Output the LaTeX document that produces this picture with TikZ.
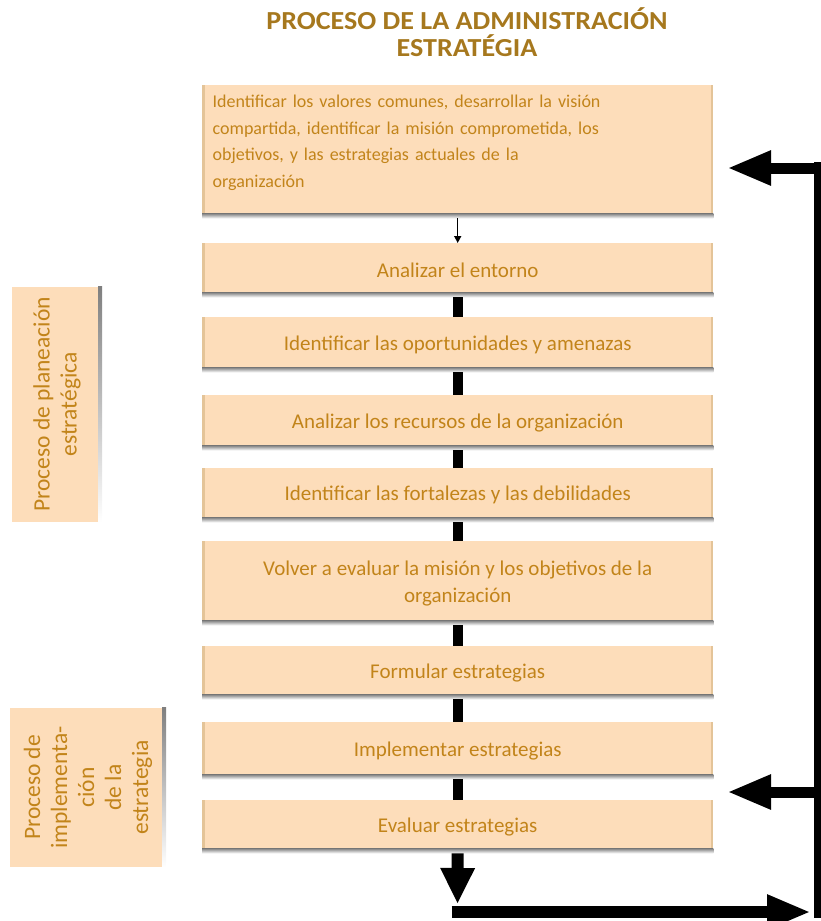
\documentclass[tikz,border=0pt]{standalone}
\usepackage{fontspec}
\setmainfont{Carlito}
\newfontfamily\ttlfont[FakeStretch=1.08]{Carlito}
\usetikzlibrary{arrows.meta}
\definecolor{peach}{RGB}{253,221,186}
\definecolor{shade}{RGB}{150,118,82}
\definecolor{edgec}{RGB}{228,196,152}
\definecolor{txt}{RGB}{194,132,26}
\definecolor{ttl}{RGB}{166,120,30}
\begin{document}
\begin{tikzpicture}[x=1pt,y=-1pt,
  stepbox/.style={fill=peach, inner sep=0pt, minimum width=511pt, anchor=north west,
    text=txt, font=\fontsize{21}{27}\selectfont, align=center},
  sidebox/.style={fill=peach, inner sep=0pt, rotate=90, text=txt, align=center,
    font=\fontsize{23.5}{27}\selectfont},
  link/.style={line width=10pt, black},
  thinlink/.style={line width=1.5pt, black, -{Triangle[length=7pt,width=7pt]}},
  fbline/.style={line width=7pt, black},
  fbarrow/.style={line width=11pt, black, -{Triangle[length=44pt,width=32pt]}},
  downarrow/.style={line width=12pt, black, -{Triangle[length=36pt,width=32pt]}},
  ttlstyle/.style={text=ttl, font=\ttlfont\bfseries\fontsize{26}{26.5}\selectfont, align=center}
]
\useasboundingbox (0,0) rectangle (821,921);

\node[ttlstyle] (title) at (467,32) {PROCESO DE LA ADMINISTRACIÓN\\ESTRATÉGIA};

\node[stepbox, minimum height=133pt, align=left, text width=490pt,
  font=\fontsize{18}{26.5}\selectfont] (b1) at (202,85)
  {Identificar los valores comunes, desarrollar la visión\\
   compartida, identificar la misión comprometida, los\\
   objetivos, y las estrategias actuales de la\\
   organización\par\vspace{18pt}};
\node[stepbox, minimum height=54pt] (b2) at (202,243) {Analizar el entorno};
\node[stepbox, minimum height=55pt] (b3) at (202,317) {Identificar las oportunidades y amenazas};
\node[stepbox, minimum height=55pt] (b4) at (202,395) {Analizar los recursos de la organización};
\node[stepbox, minimum height=54pt] (b5) at (202,468) {Identificar las fortalezas y las debilidades};
\node[stepbox, minimum height=84pt] (b6) at (202,541) {Volver a evaluar la misión y los objetivos de la\\organización};
\node[stepbox, minimum height=53pt] (b7) at (202,646) {Formular estrategias};
\node[stepbox, minimum height=57pt] (b8) at (202,722) {Implementar estrategias};
\node[stepbox, minimum height=53pt] (b9) at (202,800) {Evaluar estrategias};

\foreach \n in {b1,b2,b3,b4,b5,b6,b7,b8,b9}{
  \fill[shade] (\n.south west) rectangle ([yshift=5pt]\n.south east);
  \fill[edgec] ([yshift=5pt]\n.south west) rectangle ([xshift=2.5pt]\n.north west);
  \fill[edgec] ([xshift=-2.5pt,yshift=5pt]\n.south east) rectangle (\n.north east);
}

\node[sidebox, minimum width=235pt, minimum height=90pt] (p1) at (57,404.5)
  {Proceso de planeación\\estratégica};
\node[sidebox, minimum width=159pt, minimum height=156pt] (p2) at (88,787.5)
  {Proceso de\\implementa-\\ción\\de la\\estrategia};
\foreach \n in {p1,p2}{
  \fill[shade] (\n.south west) rectangle ([xshift=-4pt]\n.south east);
}

\draw[thinlink] (b1.south) -- (b2.north);
\draw[link] (b2.south) -- (b3.north);
\draw[link] (b3.south) -- (b4.north);
\draw[link] (b4.south) -- (b5.north);
\draw[link] (b5.south) -- (b6.north);
\draw[link] (b6.south) -- (b7.north);
\draw[link] (b7.south) -- (b8.north);
\draw[link] (b8.south) -- (b9.north);

\coordinate (fbtop) at (817,162);
\coordinate (fbbot) at (817,918);
\coordinate (corner) at (457.5,912);
\coordinate (downtip) at (457.5,904);
\coordinate (righttip) at (811,912);
\coordinate (top1) at (820.5,168);
\coordinate (tip1) at (727,168);
\coordinate (top8) at (820.5,792);
\coordinate (tip8) at (727,792);

\draw[fbline] (fbtop) -- (fbbot);
\draw[fbarrow] (top1) -- (tip1);
\draw[fbarrow] (top8) -- (tip8);
\draw[downarrow] (b9.south) -- (downtip);
\draw[line width=12pt, black, -{Triangle[length=44pt,width=32pt]}] ([xshift=-6pt]corner) -- (righttip);
\end{tikzpicture}
\end{document}
